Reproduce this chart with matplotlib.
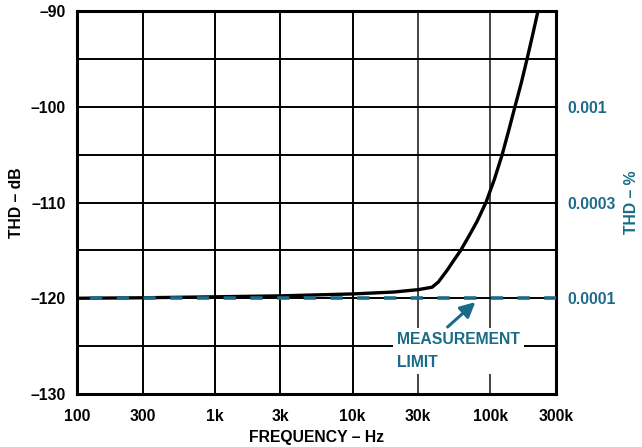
import matplotlib.pyplot as plt
import numpy as np

plt.rcParams['font.family'] = ['Liberation Sans', 'DejaVu Sans']
plt.rcParams['font.weight'] = 'bold'

TEAL = '#1b6b88'
FS = 11.3

# THD curve
freq = [100, 300, 1000, 3000, 10000, 20000, 30000, 37800, 42000, 48500, 54000,
        61000, 70000, 80000, 93000, 107000, 122000, 136000, 151000, 168000,
        185000, 203000, 222000]
thd_db = [-120.0, -119.95, -119.85, -119.75, -119.55, -119.35, -119.1, -118.85,
          -118.3, -117.1, -116.1, -115.0, -113.5, -112.0, -110.0, -107.6, -105.0,
          -102.5, -100.0, -97.5, -95.0, -92.5, -90.0]

# measurement limit
limit_freq = [100, 300000]
limit_db = [-120, -120]

x_ticks = [100, 300, 1000, 3000, 10000, 30000, 100000, 300000]
x_labels = ['100', '300', '1k', '3k', '10k', '30k', '100k', '300k']
y_ticks = [-130, -120, -110, -100, -90]
y_labels = ['\u2013130', '\u2013120', '\u2013110', '\u2013100', '\u201390']
pct_pos = [-120, -110, -100]
pct_labels = ['0.0001', '0.0003', '0.001']

fig = plt.figure(figsize=(6.42, 4.47), dpi=100)
ax = fig.add_axes([77 / 642, 1 - 394 / 447, (556 - 77) / 642, (394 - 11) / 447])

ax.set_xscale('log')
ax.set_xlim(100, 300000)
ax.set_ylim(-130, -90)

# grid
for f in x_ticks[1:-1]:
    ax.axvline(f, color='black' if f < 30000 else '#444444', lw=1.4, zorder=1)
for v in np.arange(-125, -90, 5):
    ax.axhline(v, color='black', lw=1.4, zorder=1)

ax.plot(freq, thd_db, color='black', lw=2.4, zorder=3, solid_joinstyle='round')
ax.plot(limit_freq, limit_db, color=TEAL, lw=2.6,
        linestyle=(3.8, (3.4, 4.0)), zorder=4)

ax.set_xticks(x_ticks)
ax.set_xticklabels(x_labels)
ax.xaxis.set_minor_locator(plt.NullLocator())
ax.set_yticks(y_ticks)
ax.set_yticklabels(y_labels)
ax.tick_params(axis='x', length=0, labelsize=FS, pad=11)
ax.tick_params(axis='y', length=0, labelsize=FS, pad=8)
for s in ax.spines.values():
    s.set_linewidth(2.2)

ax.set_xlabel('FREQUENCY \u2013 Hz', fontsize=FS, fontweight='bold', labelpad=4)
ax.set_ylabel('THD \u2013 dB', fontsize=FS, fontweight='bold', labelpad=5)

ax2 = ax.twinx()
ax2.set_ylim(-130, -90)
ax2.set_yticks(pct_pos)
ax2.set_yticklabels(pct_labels, color=TEAL)
ax2.tick_params(length=0, labelsize=FS, pad=8)
for s in ax2.spines.values():
    s.set_visible(False)
fig.text(632 / 642, 1 - 202 / 447, 'THD \u2013 %', fontsize=FS, fontweight='bold',
         color=TEAL, rotation=90, ha='center', va='center')

ax.text(21000, -125.5, 'MEASUREMENT\nLIMIT', color=TEAL, fontsize=FS,
        fontweight='bold', ha='left', va='center', linespacing=1.6,
        bbox=dict(facecolor='white', edgecolor='none', pad=3), zorder=5)
ax.annotate('', xy=(78000, -120.4), xytext=(49000, -123.0),
            arrowprops=dict(arrowstyle='-|>,head_length=0.9,head_width=0.45',
                            color=TEAL, lw=2.2, shrinkA=0, shrinkB=0), zorder=6)

fig.savefig('out.png', dpi=100)
